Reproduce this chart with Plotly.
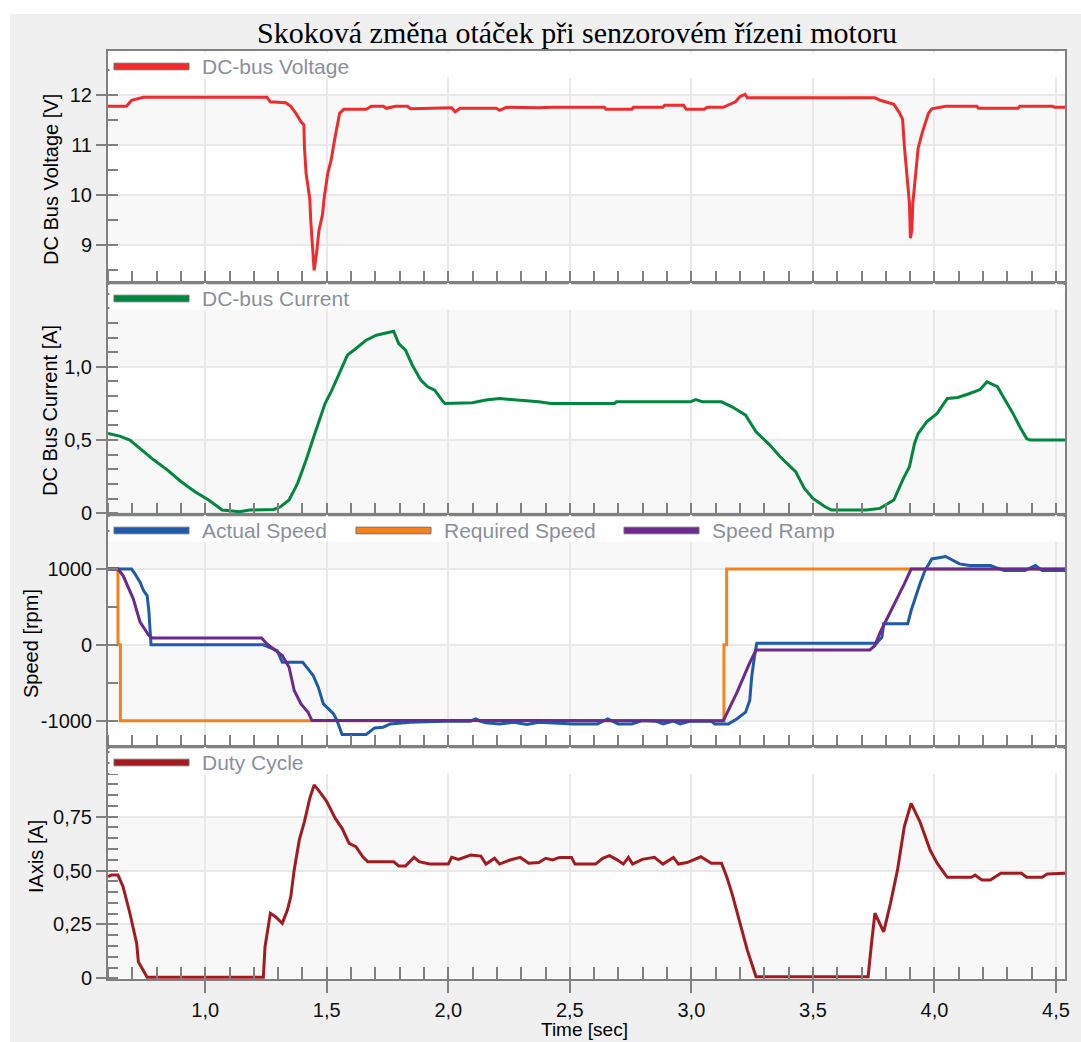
import plotly.graph_objects as go
from plotly.subplots import make_subplots

# ---------------- data ----------------
title_text = "Skoková změna otáček při senzorovém řízeni motoru"

voltage_t = [0.600, 0.676, 0.697, 0.732, 0.746, 1.254, 1.268, 1.331, 1.352, 1.373, 1.394, 1.406, 1.408, 1.415,
             1.430, 1.434, 1.441, 1.448, 1.458, 1.468, 1.482, 1.490, 1.504, 1.518, 1.532, 1.546, 1.553, 1.570,
             1.662, 1.683, 1.732, 1.746, 1.782, 1.831, 1.845, 2.014, 2.028, 2.049, 2.197, 2.211, 2.239, 2.372,
             2.429, 2.642, 2.649, 2.755, 2.762, 2.883, 2.890, 2.968, 2.979, 3.053, 3.065, 3.131, 3.150, 3.181,
             3.202, 3.221, 3.230, 3.755, 3.777, 3.833, 3.855, 3.869, 3.876, 3.887, 3.897, 3.901, 3.907, 3.911,
             3.921, 3.933, 3.950, 3.975, 3.989, 4.046, 4.174, 4.181, 4.344, 4.351, 4.486, 4.493, 4.537]
voltage_v = [11.77, 11.77, 11.89, 11.93, 11.95, 11.95, 11.86, 11.84, 11.77, 11.63, 11.46, 11.40, 10.96, 10.43,
             9.93, 9.50, 8.97, 8.50, 8.84, 9.30, 9.60, 9.97, 10.43, 10.70, 11.10, 11.43, 11.63, 11.71,
             11.71, 11.77, 11.77, 11.73, 11.77, 11.77, 11.72, 11.74, 11.66, 11.73, 11.73, 11.69, 11.75, 11.74,
             11.75, 11.75, 11.71, 11.71, 11.75, 11.75, 11.79, 11.79, 11.71, 11.71, 11.75, 11.75, 11.79, 11.86,
             11.97, 12.01, 11.94, 11.94, 11.89, 11.81, 11.65, 11.51, 10.98, 10.35, 9.84, 9.14, 9.30, 9.84,
             10.35, 10.94, 11.25, 11.63, 11.72, 11.77, 11.77, 11.73, 11.73, 11.77, 11.77, 11.75, 11.75]

current_t = [0.600, 0.648, 0.690, 0.732, 0.789, 0.845, 0.901, 0.958, 1.014, 1.070, 1.141, 1.183, 1.282, 1.310,
             1.345, 1.380, 1.415, 1.451, 1.479, 1.493, 1.521, 1.556, 1.585, 1.620, 1.662, 1.704, 1.768, 1.775,
             1.796, 1.824, 1.852, 1.887, 1.915, 1.944, 1.979, 1.986, 2.099, 2.155, 2.211, 2.268, 2.310, 2.372,
             2.422, 2.684, 2.691, 2.996, 3.018, 3.046, 3.124, 3.167, 3.223, 3.266, 3.323, 3.365, 3.429, 3.465,
             3.500, 3.550, 3.577, 3.720, 3.776, 3.833, 3.869, 3.897, 3.918, 3.933, 3.968, 4.011, 4.053, 4.096,
             4.145, 4.188, 4.216, 4.259, 4.287, 4.323, 4.351, 4.379, 4.394, 4.537]
current_a = [0.545, 0.527, 0.500, 0.443, 0.364, 0.295, 0.216, 0.148, 0.091, 0.023, 0.011, 0.023, 0.027, 0.045,
             0.091, 0.205, 0.364, 0.545, 0.682, 0.750, 0.841, 0.966, 1.080, 1.125, 1.182, 1.216, 1.239, 1.243,
             1.159, 1.114, 1.011, 0.909, 0.864, 0.841, 0.761, 0.750, 0.755, 0.773, 0.784, 0.777, 0.768, 0.761,
             0.750, 0.750, 0.761, 0.761, 0.777, 0.761, 0.761, 0.727, 0.670, 0.557, 0.466, 0.386, 0.284, 0.170,
             0.102, 0.045, 0.023, 0.023, 0.034, 0.091, 0.227, 0.318, 0.477, 0.545, 0.625, 0.682, 0.784, 0.791,
             0.818, 0.845, 0.898, 0.864, 0.784, 0.682, 0.591, 0.511, 0.500, 0.500]

actual_t = [0.600, 0.697, 0.711, 0.732, 0.746, 0.761, 0.768, 0.775, 0.777, 1.239, 1.261, 1.296, 1.317, 1.401,
            1.423, 1.444, 1.465, 1.486, 1.507, 1.528, 1.542, 1.563, 1.662, 1.683, 1.697, 1.732, 1.761, 1.845,
            1.986, 2.090, 2.113, 2.130, 2.155, 2.211, 2.268, 2.324, 2.372, 2.514, 2.613, 2.656, 2.699, 2.755,
            2.798, 2.855, 2.883, 2.926, 2.954, 2.996, 3.082, 3.096, 3.153, 3.188, 3.223, 3.240, 3.248, 3.259,
            3.269, 3.762, 3.784, 3.791, 3.890, 3.904, 3.926, 3.940, 3.961, 3.989, 4.046, 4.103, 4.145, 4.230,
            4.287, 4.372, 4.415, 4.443, 4.537]
actual_rpm = [1000, 1000, 936, 826, 716, 650, 453, 101, 0, 0, -31, -75, -229, -229,
              -316, -404, -558, -778, -844, -910, -998, -1182, -1182, -1130, -1095, -1086, -1042, -1020,
              -1006, -1006, -975, -1006, -1029, -1042, -1020, -1050, -1020, -1042, -1042, -975, -1042, -1042,
              -998, -1006, -1042, -1006, -1042, -1006, -1006, -1042, -1042, -975, -888, -734, -426, -163,
              22, 22, 101, 277, 277, 453, 673, 804, 980, 1134, 1165, 1068, 1046, 1046,
              980, 980, 1046, 980, 980]

required_t = [0.600, 0.641, 0.641, 0.651, 0.651, 3.134, 3.134, 3.145, 3.145, 4.537]
required_rpm = [1000, 1000, 0, 0, -1000, -1000, 0, 0, 1000, 1000]

ramp_t = [0.600, 0.641, 0.662, 0.683, 0.704, 0.718, 0.732, 0.746, 0.768, 0.782, 1.232, 1.254, 1.282, 1.317,
          1.345, 1.366, 1.394, 1.423, 1.439, 3.131, 3.145, 3.188, 3.238, 3.266, 3.734, 3.755, 3.777, 3.805,
          3.848, 3.876, 3.904, 4.537]
ramp_rpm = [1000, 1000, 914, 760, 607, 453, 299, 233, 123, 92, 92, 13, -53, -141,
            -295, -602, -778, -888, -998, -1000, -910, -624, -251, -66, -66, -9, 167, 343,
            629, 804, 1000, 1000]

duty_t = [0.600, 0.613, 0.641, 0.662, 0.690, 0.718, 0.725, 0.761, 1.239, 1.246, 1.268, 1.289, 1.317, 1.338,
          1.352, 1.366, 1.387, 1.408, 1.430, 1.448, 1.465, 1.500, 1.535, 1.563, 1.592, 1.620, 1.648, 1.669,
          1.775, 1.796, 1.824, 1.859, 1.880, 1.923, 2.000, 2.014, 2.042, 2.092, 2.134, 2.155, 2.190, 2.211,
          2.254, 2.296, 2.331, 2.372, 2.401, 2.429, 2.457, 2.507, 2.521, 2.606, 2.635, 2.663, 2.691, 2.720,
          2.741, 2.758, 2.798, 2.848, 2.883, 2.926, 2.947, 2.982, 3.039, 3.082, 3.124, 3.145, 3.167, 3.188,
          3.209, 3.230, 3.266, 3.727, 3.741, 3.755, 3.791, 3.819, 3.848, 3.876, 3.904, 3.940, 3.982, 4.011,
          4.046, 4.053, 4.152, 4.167, 4.195, 4.230, 4.273, 4.358, 4.379, 4.443, 4.464, 4.537]
duty_v = [0.472, 0.479, 0.479, 0.425, 0.302, 0.162, 0.077, 0.005, 0.005, 0.147, 0.302, 0.286, 0.255, 0.317,
          0.379, 0.503, 0.642, 0.727, 0.835, 0.897, 0.874, 0.820, 0.742, 0.696, 0.626, 0.611, 0.564, 0.541,
          0.541, 0.521, 0.521, 0.561, 0.541, 0.530, 0.530, 0.561, 0.552, 0.572, 0.567, 0.530, 0.557, 0.530,
          0.549, 0.561, 0.534, 0.537, 0.557, 0.549, 0.561, 0.561, 0.530, 0.530, 0.557, 0.569, 0.552, 0.530,
          0.561, 0.530, 0.552, 0.561, 0.530, 0.561, 0.530, 0.537, 0.564, 0.534, 0.534, 0.472, 0.394, 0.302,
          0.224, 0.131, 0.008, 0.008, 0.162, 0.302, 0.216, 0.348, 0.503, 0.704, 0.812, 0.727, 0.595, 0.534,
          0.479, 0.469, 0.469, 0.479, 0.456, 0.456, 0.487, 0.487, 0.469, 0.469, 0.484, 0.487]

x_tickvals = [1.0, 1.5, 2.0, 2.5, 3.0, 3.5, 4.0, 4.5]
x_ticktext = ["1,0", "1,5", "2,0", "2,5", "3,0", "3,5", "4,0", "4,5"]
y1_tickvals = [9, 10, 11, 12]
y1_ticktext = ["9", "10", "11", "12"]
y2_tickvals = [0, 0.5, 1.0]
y2_ticktext = ["0", "0,5", "1,0"]
y3_tickvals = [-1000, 0, 1000]
y3_ticktext = ["-1000", "0", "1000"]
y4_tickvals = [0, 0.25, 0.5, 0.75]
y4_ticktext = ["0", "0,25", "0,50", "0,75"]

y_titles = ["DC Bus Voltage [V]", "DC Bus Current [A]", "Speed [rpm]", "IAxis [A]"]
x_title = "Time [sec]"

# ---------------- style ----------------
C_VOLT = "#ee2b2e"
C_CURR = "#00873f"
C_ACT = "#1f5ba8"
C_REQ = "#f5821f"
C_RAMP = "#6a2a8e"
C_DUTY = "#a11b20"
FRAME = "#808080"
GRID = "#e9e9e9"
BAND = "#f8f8f8"
SANS = "Arial, 'Liberation Sans', sans-serif"
SERIF = "'Times New Roman', 'Liberation Serif', serif"

W_FIG, H_FIG = 1081, 1042
L, R, T, B = 108, 1065, 51, 979
PW, PH = R - L, B - T
PANEL_H = PH / 4.0

x_range = [0.6, 4.537]
y_ranges = [[8.247, 12.873], [-0.011, 1.572], [-1347, 1713], [-0.003, 1.073]]
y_minor = [0.5, 0.1, 500, 0.05]
y_bands = [[(11, 12), (9, 10)], [(1.0, 1.5), (0, 0.5)], [(1000, 2000), (-1000, 0)], [(0.5, 0.75), (0, 0.25)]]
y_ticks = [(y1_tickvals, y1_ticktext), (y2_tickvals, y2_ticktext), (y3_tickvals, y3_ticktext),
           (y4_tickvals, y4_ticktext)]
# pixel centres of the rotated y titles (x, y)
y_title_pos = [(51, 180), (50, 411), (31, 644), (36, 857)]


def px_x(px):
    return (px - L) / PW


def px_y(py):
    return (B - py) / PH


fig = make_subplots(rows=4, cols=1, shared_xaxes=True, vertical_spacing=0)

fig.add_trace(go.Scatter(x=voltage_t, y=voltage_v, mode="lines", name="DC-bus Voltage",
                         line=dict(color=C_VOLT, width=3)), row=1, col=1)
fig.add_trace(go.Scatter(x=current_t, y=current_a, mode="lines", name="DC-bus Current",
                         line=dict(color=C_CURR, width=3)), row=2, col=1)
fig.add_trace(go.Scatter(x=required_t, y=required_rpm, mode="lines", name="Required Speed",
                         line=dict(color=C_REQ, width=3)), row=3, col=1)
fig.add_trace(go.Scatter(x=actual_t, y=actual_rpm, mode="lines", name="Actual Speed",
                         line=dict(color=C_ACT, width=3)), row=3, col=1)
fig.add_trace(go.Scatter(x=ramp_t, y=ramp_rpm, mode="lines", name="Speed Ramp",
                         line=dict(color=C_RAMP, width=3)), row=3, col=1)
fig.add_trace(go.Scatter(x=duty_t, y=duty_v, mode="lines", name="Duty Cycle",
                         line=dict(color=C_DUTY, width=3)), row=4, col=1)

for i in range(4):
    r = i + 1
    bottom = (r == 4)
    fig.update_xaxes(row=r, col=1, range=x_range, tickmode="array", tickvals=x_tickvals, ticktext=x_ticktext,
                     showticklabels=bottom, ticks="outside", ticklen=12 if bottom else 6, tickwidth=2,
                     tickcolor=FRAME, showline=True, mirror=True, linecolor=FRAME, linewidth=2,
                     showgrid=True, gridcolor=GRID, gridwidth=2, zeroline=False, automargin=False,
                     minor=dict(tickmode="linear", tick0=0, dtick=0.1, ticks="inside", ticklen=12,
                                tickwidth=2, tickcolor=FRAME, showgrid=False),
                     tickfont=dict(family=SANS, size=20, color="#111111"))
    tv, tt = y_ticks[i]
    fig.update_yaxes(row=r, col=1, range=y_ranges[i], tickmode="array", tickvals=tv, ticktext=tt,
                     ticks="outside", ticklen=10, tickwidth=2, tickcolor=FRAME,
                     showline=True, mirror=True, linecolor=FRAME, linewidth=2,
                     showgrid=True, gridcolor=GRID, gridwidth=2, zeroline=False, automargin=False,
                     minor=dict(tickmode="linear", tick0=0, dtick=y_minor[i], ticks="inside", ticklen=10,
                                tickwidth=2, tickcolor=FRAME, showgrid=False),
                     tickfont=dict(family=SANS, size=20, color="#111111"))

shapes = []
# white margins above / left of the grey window
shapes.append(dict(type="rect", xref="paper", yref="paper", x0=px_x(-5), x1=px_x(W_FIG + 5),
                   y0=px_y(14), y1=px_y(-5), fillcolor="white", line=dict(width=0), layer="below"))
shapes.append(dict(type="rect", xref="paper", yref="paper", x0=px_x(-5), x1=px_x(10),
                   y0=px_y(H_FIG + 5), y1=px_y(-5), fillcolor="white", line=dict(width=0), layer="below"))

for i in range(4):
    xn = "x" if i == 0 else "x%d" % (i + 1)
    yn = "y" if i == 0 else "y%d" % (i + 1)
    lo, hi = y_ranges[i]
    for (b0, b1) in y_bands[i]:
        shapes.append(dict(type="rect", xref=xn + " domain", yref=yn, x0=0, x1=1,
                           y0=max(b0, lo), y1=min(b1, hi), fillcolor=BAND, line=dict(width=0), layer="below"))

annotations = []
# axis titles
for i in range(4):
    tx, ty = y_title_pos[i]
    annotations.append(dict(xref="paper", yref="paper", x=px_x(tx), y=px_y(ty), xanchor="center",
                            yanchor="middle", showarrow=False, textangle=-90, text=y_titles[i],
                            font=dict(family=SANS, size=20, color="#000000")))
annotations.append(dict(xref="paper", yref="paper", x=px_x(584), y=px_y(1029), xanchor="center",
                        yanchor="middle", showarrow=False, text=x_title,
                        font=dict(family=SANS, size=19, color="#000000")))

legend_rows = [
    [("DC-bus Voltage", C_VOLT, 114)],
    [("DC-bus Current", C_CURR, 114)],
    [("Actual Speed", C_ACT, 114), ("Required Speed", C_REQ, 356), ("Speed Ramp", C_RAMP, 624)],
    [("Duty Cycle", C_DUTY, 114)],
]
for i, entries in enumerate(legend_rows):
    top = T + i * PANEL_H
    # white legend strip at the top of each panel (covers grid lines, inside the frame)
    shapes.append(dict(type="rect", xref="paper", yref="paper", x0=px_x(L + 1.5), x1=px_x(R - 1.5),
                       y0=px_y(top + 27), y1=px_y(top + (1.5 if i == 0 else 1.2)),
                       fillcolor="white", line=dict(width=0), layer="above"))
    cy = top + 15.5
    for (label, color, x0) in entries:
        shapes.append(dict(type="rect", xref="paper", yref="paper", x0=px_x(x0), x1=px_x(x0 + 75),
                           y0=px_y(cy + 3.3), y1=px_y(cy - 3.3), fillcolor=color,
                           line=dict(color="#6e6e6e", width=1), layer="above"))
        annotations.append(dict(xref="paper", yref="paper", x=px_x(x0 + 86), y=px_y(cy - 0.5),
                                xanchor="left", yanchor="middle", showarrow=False, text=label,
                                font=dict(family=SANS, size=21, color="#8a909b")))

fig.update_layout(
    width=W_FIG, height=H_FIG,
    margin=dict(l=L, r=W_FIG - R, t=T, b=H_FIG - B, pad=0),
    paper_bgcolor="#f0f0f0", plot_bgcolor="white",
    showlegend=False,
    shapes=shapes, annotations=annotations,
    title=dict(text=title_text, font=dict(family=SERIF, size=30, color="#000000"),
               xref="paper", x=px_x(577), xanchor="center",
               yref="container", y=1 - 32.0 / H_FIG, yanchor="middle"),
)

fig.write_html("out.html")
